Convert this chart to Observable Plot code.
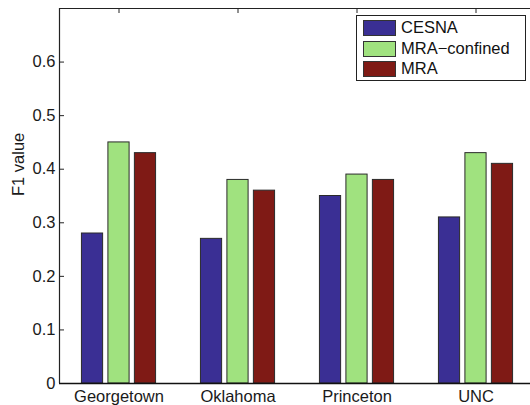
<!DOCTYPE html>
<html><head><meta charset="utf-8">
<script src="https://cdn.jsdelivr.net/npm/d3@7"></script>
<script src="https://cdn.jsdelivr.net/npm/@observablehq/plot@0.6"></script>
<style>
html,body{margin:0;padding:0;background:#fff;overflow:hidden;}
#chart{position:relative;width:530px;height:405px;overflow:hidden;font-family:"Liberation Sans",Arial,sans-serif;}
#chart svg{display:block;max-width:none !important;}
#legend{position:absolute;left:356px;top:15px;width:168px;height:64px;border:1px solid #222;background:#fff;font-size:16.5px;color:#111;}
.item{position:absolute;left:6px;height:15px;}
.sw{position:absolute;left:0;top:0;width:31px;height:14px;border:1px solid #333;}
.lab{position:absolute;left:38px;top:-3px;white-space:nowrap;line-height:20px;}
</style>
</head><body><div id="chart"></div>
<script>
const cities = ["Georgetown", "Oklahoma", "Princeton", "UNC"];
const seriesNames = ["CESNA", "MRA\u2212confined", "MRA"];
const cesna = [0.28, 0.27, 0.35, 0.31];
const mraConfined = [0.45, 0.38, 0.39, 0.43];
const mra = [0.43, 0.36, 0.38, 0.41];
const colors = ["#3a2f94", "#a0e27f", "#7f1a15"];
const yTicks = [0, 0.1, 0.2, 0.3, 0.4, 0.5, 0.6];
const yMax = 0.7;

const data = [];
[cesna, mraConfined, mra].forEach((vals, s) =>
  vals.forEach((v, i) => data.push({city: cities[i], ci: i + 1, s, series: seriesNames[s], value: v})));

const offset = 0.2225, half = 0.089;
const xLo = 0.5, xHi = 4.5;
const tickLenX = 5 / 119, tickLenY = yMax * 5 / 375;

const plot = Plot.plot({
  width: 530, height: 405,
  marginLeft: 59, marginRight: 0, marginTop: 8, marginBottom: 22,
  style: {fontFamily: "Liberation Sans, Arial, sans-serif", fontSize: "16.5px", color: "#1a1a1a", background: "#fff"},
  x: {domain: [xLo, xHi], range: [59, 535]},
  y: {domain: [0, yMax]},
  color: {domain: seriesNames, range: colors},
  marks: [
    Plot.rect(data, {
      x1: d => d.ci + (d.s - 1) * offset - half,
      x2: d => d.ci + (d.s - 1) * offset + half,
      y1: 0, y2: "value",
      fill: "series", stroke: "#2a2a2a", strokeWidth: 1
    }),
    Plot.ruleY(yTicks, {x1: xLo, x2: xLo + tickLenX, stroke: "#222"}),
    Plot.ruleX([1, 2, 3, 4], {y1: yMax, y2: yMax - tickLenY, stroke: "#222"}),
    Plot.ruleX([xLo], {y1: 0, y2: yMax, stroke: "#222", strokeWidth: 1.2}),
    Plot.ruleY([yMax], {x1: xLo, x2: xHi, stroke: "#222", strokeWidth: 1.2}),
    Plot.ruleY([0], {x1: xLo, x2: xHi, stroke: "#111", strokeWidth: 1.6}),
    Plot.axisY({ticks: yTicks, tickSize: 0, tickPadding: 4, tickFormat: d => d === 0 ? "0" : String(d), label: null}),
    Plot.axisX({ticks: [1, 2, 3, 4], tickSize: 0, tickPadding: 7, tickFormat: i => cities[i - 1], label: null}),
    Plot.text(["F1 value"], {frameAnchor: "left", rotate: -90, dx: -41, fill: "#1a1a1a"})
  ]
});
const chart = document.getElementById("chart");
chart.appendChild(plot);

const legend = document.createElement("div");
legend.id = "legend";
const tops = [4, 24.5, 45];
seriesNames.forEach((name, i) => {
  const item = document.createElement("div");
  item.className = "item";
  item.style.top = tops[i] + "px";
  const sw = document.createElement("div");
  sw.className = "sw";
  sw.style.background = colors[i];
  const lab = document.createElement("div");
  lab.className = "lab";
  lab.textContent = name;
  item.appendChild(sw); item.appendChild(lab);
  legend.appendChild(item);
});
chart.appendChild(legend);
</script>
</body></html>
